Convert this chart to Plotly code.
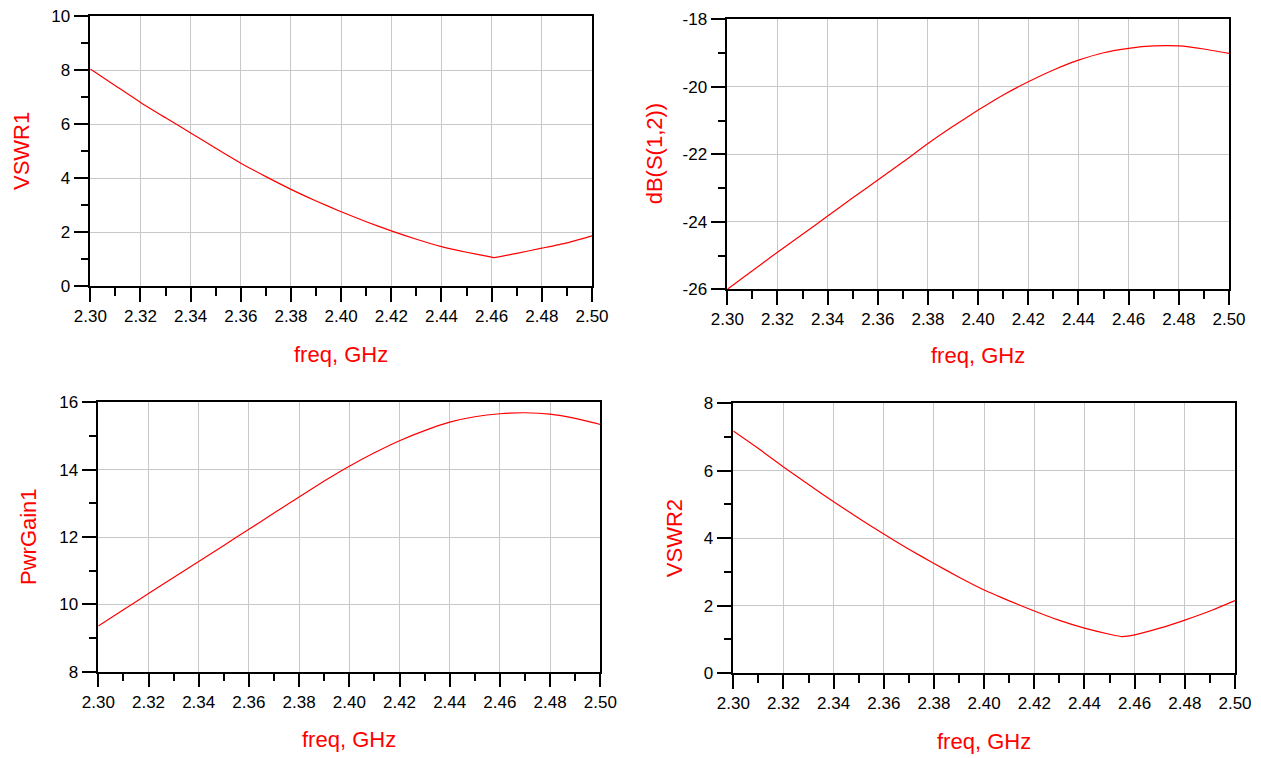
import plotly.graph_objects as go

# Frequency sweep (GHz)
freq = [2.30, 2.31, 2.32, 2.33, 2.34, 2.35, 2.36, 2.37, 2.38, 2.39, 2.40,
        2.41, 2.42, 2.43, 2.44, 2.45, 2.46, 2.47, 2.48, 2.49, 2.50]
freq_vswr1 = [2.30, 2.31, 2.32, 2.33, 2.34, 2.35, 2.36, 2.37, 2.38, 2.39, 2.40,
              2.41, 2.42, 2.43, 2.44, 2.45, 2.46, 2.461, 2.47, 2.48, 2.49, 2.50]
freq_vswr2 = [2.30, 2.31, 2.32, 2.33, 2.34, 2.35, 2.36, 2.37, 2.38, 2.39, 2.40,
              2.41, 2.42, 2.43, 2.44, 2.45, 2.455, 2.46, 2.47, 2.48, 2.49, 2.50]

# Simulated results
vswr1 = [8.04, 7.42, 6.80, 6.23, 5.67, 5.10, 4.55, 4.05, 3.58, 3.15, 2.75,
         2.38, 2.04, 1.73, 1.46, 1.25, 1.07, 1.05, 1.21, 1.40, 1.60, 1.86]
db_s12 = [-26.00, -25.45, -24.90, -24.37, -23.83, -23.29, -22.76, -22.23, -21.68, -21.17, -20.69,
          -20.24, -19.85, -19.50, -19.21, -18.99, -18.86, -18.79, -18.79, -18.88, -19.01]
pwr_gain1 = [9.36, 9.84, 10.32, 10.80, 11.27, 11.75, 12.23, 12.71, 13.19, 13.66, 14.10,
             14.50, 14.86, 15.16, 15.41, 15.57, 15.66, 15.69, 15.65, 15.52, 15.34]
vswr2 = [7.18, 6.66, 6.11, 5.59, 5.08, 4.59, 4.12, 3.67, 3.25, 2.84, 2.46,
         2.14, 1.84, 1.56, 1.33, 1.15, 1.08, 1.13, 1.33, 1.57, 1.84, 2.15]

# Tick positions / labels
x_ticks = [2.30, 2.32, 2.34, 2.36, 2.38, 2.40, 2.42, 2.44, 2.46, 2.48, 2.50]
x_ticktext = ["2.30", "2.32", "2.34", "2.36", "2.38", "2.40", "2.42", "2.44", "2.46", "2.48", "2.50"]
x_minor = [2.31, 2.33, 2.35, 2.37, 2.39, 2.41, 2.43, 2.45, 2.47, 2.49]

vswr1_ticks = [0, 2, 4, 6, 8, 10]
vswr1_minor = [1, 3, 5, 7, 9]
s12_ticks = [-26, -24, -22, -20, -18]
s12_ticktext = ["-26", "-24", "-22", "-20", "-18"]
s12_minor = [-25, -23, -21, -19]
gain_ticks = [8, 10, 12, 14, 16]
gain_minor = [9, 11, 13, 15]
vswr2_ticks = [0, 2, 4, 6, 8]
vswr2_minor = [1, 3, 5, 7]

W, H = 1261, 758
RED = "#ff0000"
FONT = "Liberation Sans, Arial, sans-serif"

# Plot-area boxes in pixels: (left, top, right, bottom)
boxes = [
    (90.3, 16.0, 592.0, 286.0),
    (727.3, 19.3, 1229.0, 289.3),
    (98.3, 402.3, 600.3, 671.7),
    (733.3, 403.3, 1235.0, 673.0),
]

panels = [
    (freq_vswr1, vswr1, [0, 10], vswr1_ticks, [str(v) for v in vswr1_ticks], vswr1_minor, "VSWR1"),
    (freq, db_s12, [-26, -18], s12_ticks, s12_ticktext, s12_minor, "dB(S(1,2))"),
    (freq, pwr_gain1, [8, 16], gain_ticks, [str(v) for v in gain_ticks], gain_minor, "PwrGain1"),
    (freq_vswr2, vswr2, [0, 8], vswr2_ticks, [str(v) for v in vswr2_ticks], vswr2_minor, "VSWR2"),
]

# y-title centre x positions and x-title centre y positions (pixels)
ytitle_x = [22, 654, 28, 674]
xtitle_y = [354, 356, 739, 741]

fig = go.Figure()
layout = dict(
    template="none",
    width=W, height=H,
    margin=dict(l=0, r=0, t=0, b=0, autoexpand=False),
    paper_bgcolor="white", plot_bgcolor="white",
    showlegend=False,
    font=dict(family=FONT, color="black", size=17),
    annotations=[],
)

axis_common = dict(
    automargin=False,
    showline=True, linecolor="black", linewidth=1.5, mirror=True,
    showgrid=True, gridcolor="#c8c8c8", gridwidth=1,
    zeroline=False,
    ticks="outside", tickcolor="black", tickwidth=1.5,
    tickfont=dict(family=FONT, size=17, color="black"),
    tickmode="array", fixedrange=True,
)

for i, ((fx, fy, yr, yt, ytt, ym, ytitle), box) in enumerate(zip(panels, boxes)):
    n = "" if i == 0 else str(i + 1)
    l, t, r, b = box
    xd = [l / W, r / W]
    yd = [1 - b / H, 1 - t / H]
    layout["xaxis" + n] = dict(
        axis_common, domain=xd, range=[2.30, 2.50], anchor="y" + n,
        tickvals=x_ticks, ticktext=x_ticktext, ticklen=14,
        minor=dict(tickmode="array", tickvals=x_minor, ticks="outside",
                   ticklen=8, tickwidth=1.5, tickcolor="black", showgrid=False),
    )
    layout["yaxis" + n] = dict(
        axis_common, domain=yd, range=yr, anchor="x" + n,
        tickvals=yt, ticktext=ytt, ticklen=15,
        minor=dict(tickmode="array", tickvals=ym, ticks="outside",
                   ticklen=8, tickwidth=1.5, tickcolor="black", showgrid=False),
    )
    fig.add_trace(go.Scatter(
        x=fx, y=fy, mode="lines", xaxis="x" + n, yaxis="y" + n,
        line=dict(color=RED, width=1.2, shape="spline", smoothing=0.5),
        hoverinfo="skip",
    ))
    # axis titles
    layout["annotations"].append(dict(
        text="freq, GHz", xref="paper", yref="paper",
        x=(l + r) / 2 / W, y=1 - xtitle_y[i] / H,
        xanchor="center", yanchor="middle", showarrow=False,
        font=dict(family=FONT, size=22, color=RED),
    ))
    layout["annotations"].append(dict(
        text=ytitle, xref="paper", yref="paper", textangle=-90,
        x=ytitle_x[i] / W, y=1 - (t + b) / 2 / H,
        xanchor="center", yanchor="middle", showarrow=False,
        font=dict(family=FONT, size=22, color=RED),
    ))

fig.update_layout(**layout)
fig.write_html("out.html")
